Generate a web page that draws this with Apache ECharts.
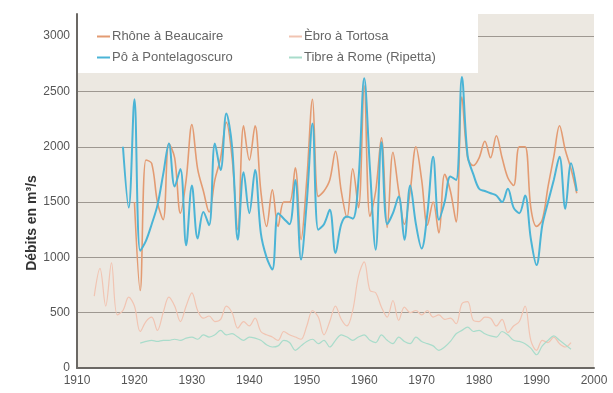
<!DOCTYPE html>
<html>
<head>
<meta charset="utf-8">
<script src="https://cdn.jsdelivr.net/npm/echarts@6/dist/echarts.min.js"></script>
<style>
  html, body { margin: 0; padding: 0; background: #ffffff; }
  #chart { width: 613px; height: 393px; }
</style>
</head>
<body>
<div id="chart"></div>
<script>
// Annual mean discharge (m³/s) of four Mediterranean rivers.
const rhoneName = 'Rhône à Beaucaire';
const poName = 'Pô à Pontelagoscuro';
const ebroName = 'Èbro à Tortosa';
const tibreName = 'Tibre à Rome (Ripetta)';

const rhoneStart = 1920;
const rhone = [1500, 700, 1880, 1850, 1500, 1340, 2030, 1900, 1400, 1700,
  2200, 1800, 1600, 1410, 1700, 1900, 2220, 1900, 1250, 2190,
  1880, 2190, 1600, 1280, 1610, 1280, 1500, 1500, 1810, 1160,
  1700, 2430, 1550, 1600, 1700, 1960, 1600, 1360, 1800, 1450,
  2550, 1370, 1600, 2080, 1270, 1950, 1600, 1300, 1600, 2000,
  1700, 1290, 1500, 1220, 1750, 1600, 1320, 2450, 1900, 1830,
  1900, 2050, 1900, 2100, 1900, 1720, 1650, 2000, 2000, 1450,
  1280, 1340, 1640, 1910, 2190, 1970, 1800, 1580];

const poStart = 1918;
const po = [2000, 1450, 2430, 1060, 1150, 1300, 1470, 1750, 2030, 1640,
  1800, 1110, 1650, 1170, 1410, 1290, 2030, 1790, 2300, 2000,
  1160, 1770, 1400, 1790, 1220, 1000, 890, 1400, 1350, 1300,
  1700, 980, 1500, 2210, 1250, 1300, 1430, 1040, 1300, 1370,
  1350, 1700, 2620, 1800, 1070, 2040, 1300, 1400, 1550, 1160,
  1650, 1300, 1080, 1400, 1910, 1340, 1500, 1730, 1700, 2630,
  1920, 1750, 1620, 1600, 1580, 1560, 1500, 1620, 1450, 1400,
  1560, 1170, 930, 1290, 1500, 1700, 1910, 1440, 1850, 1600];

const ebroStart = 1913;
const ebro = [650, 900, 560, 950, 480, 520, 640, 560, 330, 420,
  460, 340, 500, 640, 560, 420, 560, 680, 520, 450,
  470, 420, 440, 560, 500, 360, 420, 380, 450, 330,
  300, 280, 250, 330, 300, 280, 260, 380, 520, 460,
  300, 420, 560, 440, 380, 520, 830, 960, 700, 680,
  550, 460, 610, 430, 550, 500, 520, 480, 520, 460,
  480, 440, 450, 400, 580, 600, 430, 420, 460, 450,
  380, 440, 320, 380, 420, 560, 250, 160, 250, 230,
  280, 220, 190, 230];

const tibreStart = 1921;
const tibre = [225, 240, 250, 240, 250, 250, 260, 250, 270, 280,
  260, 300, 280, 300, 340, 300, 310, 280, 250, 280,
  270, 250, 210, 190, 200, 250, 230, 160, 200, 240,
  260, 220, 250, 190, 250, 300, 280, 250, 280, 300,
  250, 230, 300, 250, 220, 280, 240, 220, 280, 240,
  220, 200, 160, 190, 240, 310, 340, 370, 330, 340,
  310, 290, 280, 330, 300, 250, 240, 220, 180, 120,
  200, 250, 290, 250, 210, 170];

const yearTicks = [1910, 1920, 1930, 1940, 1950, 1960, 1970, 1980, 1990, 2000];
const flowTicks = [0, 500, 1000, 1500, 2000, 2500, 3000];

// pair each value with its year
function toPairs(start, values) {
  return values.map((v, i) => [start + i, v]);
}

const chart = echarts.init(document.getElementById('chart'), null, { renderer: 'canvas' });

const textColor = '#555';
const fontFamily = 'Liberation Sans, Arial, sans-serif';

function lineSeries(name, start, values, color, width) {
  return {
    name: name,
    type: 'line',
    data: toPairs(start, values),
    showSymbol: false,
    smooth: 0.35,
    lineStyle: { color: color, width: width },
    itemStyle: { color: color },
    emphasis: { disabled: true },
    animation: false
  };
}

const legendCommon = {
  orient: 'vertical',
  top: 25,
  icon: 'rect',
  itemWidth: 13,
  itemHeight: 2,
  itemGap: 8,
  textStyle: { color: '#666', fontSize: 13, fontFamily: fontFamily, padding: [0, 0, 0, -3] },
  selectedMode: false
};

chart.setOption({
  backgroundColor: '#ffffff',
  animation: false,
  grid: {
    left: 77, right: 19, top: 14, bottom: 25,
    show: true,
    backgroundColor: '#ece8e1',
    borderWidth: 0
  },
  graphic: [
    {
      type: 'rect',
      shape: { x: 78, y: 14, width: 400, height: 59 },
      style: { fill: '#ffffff' },
      z: 1
    },
    {
      type: 'text',
      x: 32, y: 223,
      rotation: Math.PI / 2,
      style: {
        text: 'Débits en m³/s',
        fill: '#333',
        font: 'bold 14px ' + fontFamily,
        textAlign: 'center',
        textVerticalAlign: 'middle'
      }
    }
  ],
  legend: [
    Object.assign({}, legendCommon, { left: 92, data: [rhoneName, poName] }),
    Object.assign({}, legendCommon, { left: 284, data: [ebroName, tibreName] })
  ],
  xAxis: {
    type: 'value',
    min: yearTicks[0],
    max: yearTicks[yearTicks.length - 1],
    interval: 10,
    axisLine: { show: true, lineStyle: { color: '#6b6864', width: 2 } },
    axisTick: { show: false },
    splitLine: { show: false },
    axisLabel: { color: textColor, fontSize: 12, fontFamily: fontFamily, margin: 7,
      formatter: v => String(v) }
  },
  yAxis: {
    type: 'value',
    min: flowTicks[0],
    max: 3200,
    interval: 500,
    axisLine: { show: true, lineStyle: { color: '#6b6864', width: 2 } },
    axisTick: { show: false },
    splitLine: { show: true, showMaxLine: false, lineStyle: { color: '#9e9891', width: 1.2 } },
    axisLabel: { color: textColor, fontSize: 12, fontFamily: fontFamily, margin: 7, showMaxLabel: false,
      formatter: v => String(v) }
  },
  series: [
    lineSeries(rhoneName, rhoneStart, rhone, '#e39b72', 1.6),
    lineSeries(poName, poStart, po, '#4bb4d6', 2),
    lineSeries(ebroName, ebroStart, ebro, '#f1c4b2', 1.2),
    lineSeries(tibreName, tibreStart, tibre, '#a9dccb', 1.2)
  ]
});
</script>
</body>
</html>
